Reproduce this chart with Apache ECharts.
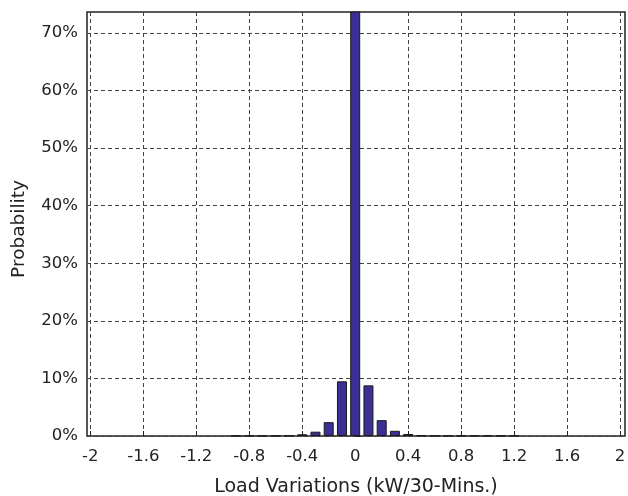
<!DOCTYPE html>
<html>
<head>
<meta charset="utf-8">
<script src="https://cdn.jsdelivr.net/npm/echarts@6/dist/echarts.min.js"></script>
<style>
  html, body { margin: 0; padding: 0; background: #fff; }
  #chart { width: 628px; height: 496px; }
</style>
</head>
<body>
<div id="chart"></div>
<script>
// Bin centres (kW/30-Mins.) and probabilities (%)
const binCenters = [-0.9, -0.8, -0.7, -0.6, -0.5, -0.4, -0.3, -0.2, -0.1, 0, 0.1, 0.2, 0.3, 0.4, 0.5, 0.6, 0.7, 0.8, 0.9, 1.0, 1.1, 1.2];
const probabilities = [0.05, 0.05, 0.05, 0.05, 0.08, 0.3, 0.75, 2.4, 9.5, 74, 8.8, 2.75, 0.9, 0.35, 0.1, 0.05, 0.05, 0.05, 0.05, 0.05, 0.05, 0.05];
const xTicks = [-2, -1.6, -1.2, -0.8, -0.4, 0, 0.4, 0.8, 1.2, 1.6, 2];
const yTicks = [0, 10, 20, 30, 40, 50, 60, 70];
const xTitle = 'Load Variations (kW/30-Mins.)';
const yTitle = 'Probability';

const FONT = 'DejaVu Sans';
const chart = echarts.init(document.getElementById('chart'), null, { renderer: 'canvas' });
const seriesData = binCenters.map((x, i) => [x, probabilities[i]]);

chart.setOption({
  animation: false,
  backgroundColor: '#fff',
  grid: {
    left: 87, right: 3, top: 12, bottom: 60,
    outerBoundsMode: 'none', containLabel: false,
    show: true, borderColor: '#222', borderWidth: 1.5, backgroundColor: 'transparent'
  },
  xAxis: {
    type: 'value',
    min: -2.025, max: 2.037,
    name: xTitle, nameLocation: 'middle', nameGap: 42,
    nameTextStyle: { fontFamily: FONT, fontSize: 19, color: '#222' },
    axisLine: { show: false },
    axisTick: { show: true, inside: true, length: 5, customValues: xTicks, lineStyle: { color: '#222' } },
    axisLabel: {
      customValues: xTicks, margin: 12,
      fontFamily: FONT, fontSize: 16.5, color: '#222',
      formatter: v => String(v)
    },
    splitLine: { show: true, lineStyle: { color: '#444', type: [4, 3], width: 1 } }
  },
  yAxis: {
    type: 'value',
    min: 0, max: 73.65,
    name: yTitle, nameLocation: 'middle', nameGap: 58, nameRotate: 90,
    nameTextStyle: { fontFamily: FONT, fontSize: 18.5, color: '#222', padding: [0, 10, 0, 0] },
    axisLine: { show: false },
    axisTick: { show: true, inside: true, length: 5, customValues: yTicks, lineStyle: { color: '#222' } },
    axisLabel: {
      customValues: yTicks, margin: 9,
      fontFamily: FONT, fontSize: 16.5, color: '#222',
      formatter: v => v + '%'
    },
    splitLine: { show: true, lineStyle: { color: '#444', type: [4, 3], width: 1 } }
  },
  series: [{
    type: 'bar',
    data: seriesData,
    barWidth: 10,
    clip: true,
    itemStyle: { color: '#3b2f93', borderColor: '#1a1a1a', borderWidth: 1 }
  }]
});
</script>
</body>
</html>
